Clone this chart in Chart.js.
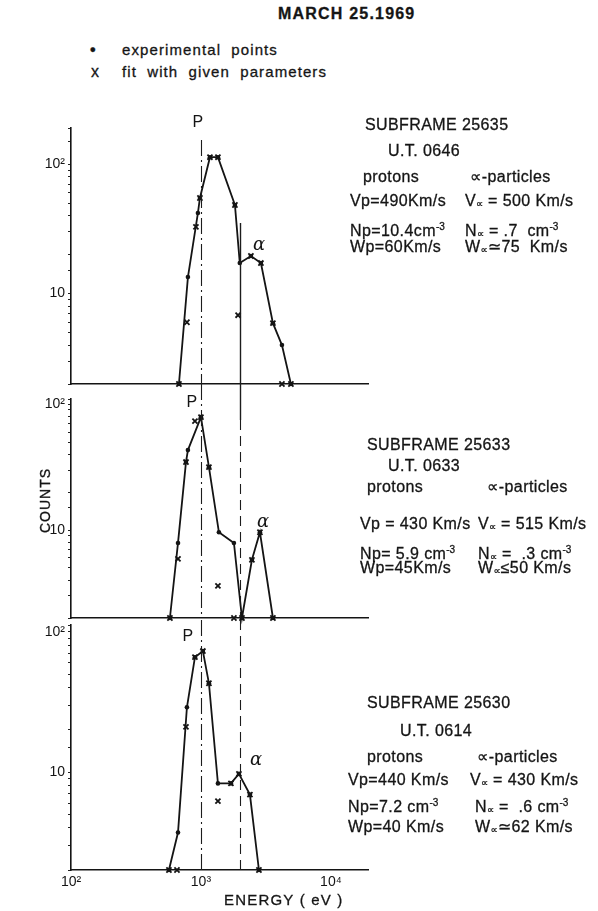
<!DOCTYPE html>
<html>
<head>
<meta charset="utf-8">
<script src="https://cdn.jsdelivr.net/npm/chart.js@4.4.1/dist/chart.umd.min.js"></script>
<style>
  html, body { margin: 0; padding: 0; background: #fff; }
  #page { position: relative; width: 598px; height: 911px; overflow: hidden; background: #fff;
          font-family: 'Liberation Sans', 'DejaVu Sans', sans-serif; color: #151515; }
  canvas { position: absolute; left: 0; }
  .t { position: absolute; white-space: pre; font-size: 16px; line-height: 18px; letter-spacing: 0.4px;
       -webkit-text-stroke: 0.3px #151515; }
  .t sub { font-size: 10px; vertical-align: -1px; letter-spacing: 0; }
  .t sup { font-size: 10px; vertical-align: 6px; letter-spacing: 0; }
  .lg { font-size: 15px; letter-spacing: 1.1px; word-spacing: 5px; }
</style>
</head>
<body>
<div id="page">
  <div class="t" style="left:278px;top:5px;font-weight:bold;font-size:16px;letter-spacing:1.2px">MARCH 25.1969</div>
  <div class="t" style="left:90px;top:41px;font-weight:bold">•</div>
  <div class="t lg" style="left:122px;top:41px">experimental points</div>
  <div class="t" style="left:91px;top:63px">x</div>
  <div class="t lg" style="left:122px;top:63px">fit with given parameters</div>

  <canvas id="c1" width="598" height="304" style="top:96px"></canvas>
  <canvas id="c2" width="598" height="250" style="top:380px"></canvas>
  <canvas id="c3" width="598" height="311" style="top:600px"></canvas>

  <!-- subframe 25635 -->
  <div class="t" style="left:365px;top:116px">SUBFRAME 25635</div>
  <div class="t" style="left:388px;top:142px">U.T. 0646</div>
  <div class="t" style="left:363px;top:168px">protons</div>
  <div class="t" style="left:470px;top:168px">∝-particles</div>
  <div class="t" style="left:350px;top:192px">Vp=490Km/s</div>
  <div class="t" style="left:465px;top:192px">V<sub>∝</sub> = 500 Km/s</div>
  <div class="t" style="left:350px;top:218px">Np=10.4cm<sup>-3</sup></div>
  <div class="t" style="left:465px;top:218px">N<sub>∝</sub> = .7  cm<sup>-3</sup></div>
  <div class="t" style="left:350px;top:238px">Wp=60Km/s</div>
  <div class="t" style="left:465px;top:238px">W<sub>∝</sub>≃75  Km/s</div>

  <!-- subframe 25633 -->
  <div class="t" style="left:367px;top:436px">SUBFRAME 25633</div>
  <div class="t" style="left:388px;top:457px">U.T. 0633</div>
  <div class="t" style="left:367px;top:478px">protons</div>
  <div class="t" style="left:487px;top:478px">∝-particles</div>
  <div class="t" style="left:360px;top:515px">Vp = 430 Km/s</div>
  <div class="t" style="left:478px;top:515px">V<sub>∝</sub> = 515 Km/s</div>
  <div class="t" style="left:360px;top:541px">Np= 5.9 cm<sup>-3</sup></div>
  <div class="t" style="left:478px;top:541px">N<sub>∝</sub> =  .3 cm<sup>-3</sup></div>
  <div class="t" style="left:360px;top:559px">Wp=45Km/s</div>
  <div class="t" style="left:478px;top:559px">W<sub>∝</sub>≤50 Km/s</div>

  <!-- subframe 25630 -->
  <div class="t" style="left:367px;top:694px">SUBFRAME 25630</div>
  <div class="t" style="left:400px;top:722px">U.T. 0614</div>
  <div class="t" style="left:367px;top:748px">protons</div>
  <div class="t" style="left:477px;top:748px">∝-particles</div>
  <div class="t" style="left:348px;top:771px">Vp=440 Km/s</div>
  <div class="t" style="left:470px;top:771px">V<sub>∝</sub> = 430 Km/s</div>
  <div class="t" style="left:348px;top:794px">Np=7.2 cm<sup>-3</sup></div>
  <div class="t" style="left:475px;top:794px">N<sub>∝</sub> =  .6 cm<sup>-3</sup></div>
  <div class="t" style="left:348px;top:818px">Wp=40 Km/s</div>
  <div class="t" style="left:475px;top:818px">W<sub>∝</sub>≃62 Km/s</div>

  <div class="t" style="left:17px;top:496px;width:56px;font-size:14px;letter-spacing:1px;transform:rotate(-90deg);transform-origin:28px 9px">COUNTS</div>
  <div class="t" style="left:224px;top:891px;font-size:15px;letter-spacing:1.2px">ENERGY ( eV )</div>
</div>

<script>
// Energy axis limits (eV)
const energyRange = [100, 19300];
// Count axis limits for each subframe
const countRange25635 = [2, 190];
const countRange25633 = [2, 110];
const countRange25630 = [2, 112];

// Reference energies of the proton and alpha lines
const lineEnergies = [1000, 2000];
const lineLabels = ['P', 'α'];

// Energy tick labels on the bottom axis
const energyTickValues = [100, 1000, 10000];
const energyTickLabels = ['10²', '10³', '10⁴'];
// Count tick labels
const countTickValues = [10, 100];
const countTickLabels = ['10', '10²'];

// SUBFRAME 25635, U.T. 0646
const s25635ExpEnergy = [677, 794, 948, 982, 1173, 1351, 1826, 1990, 2424, 2894, 3580, 4200, 4924];
const s25635ExpCounts = [2, 13.4, 41.9, 54.7, 113, 113, 48.3, 17.2, 19.5, 17.2, 5.9, 4.0, 2];
const s25635FitEnergy = [677, 780, 915, 982, 1173, 1351, 1826, 1930, 2424, 2894, 3580, 4200, 4924];
const s25635FitCounts = [2, 6.0, 32.7, 54.7, 113, 113, 48.3, 6.8, 19.5, 17.2, 5.9, 2, 2];

// SUBFRAME 25633, U.T. 0633
const s25633ExpEnergy = [577, 666, 767, 794, 1000, 1152, 1375, 1794, 2068, 2468, 2844, 3580];
const s25633ExpCounts = [2, 7.9, 34.7, 43.2, 78.9, 31.6, 9.6, 7.9, 2, 5.8, 9.6, 2];
const s25633FitEnergy = [577, 666, 767, 899, 1000, 1152, 1351, 1794, 2068, 2468, 2844, 3580];
const s25633FitCounts = [2, 5.9, 34.7, 73.3, 78.9, 31.6, 3.6, 2, 2, 5.8, 9.6, 2];

// SUBFRAME 25630, U.T. 0614
const s25630ExpEnergy = [567, 666, 780, 899, 1035, 1152, 1351, 1701, 1960, 2382, 2794];
const s25630ExpCounts = [2, 3.7, 29, 66, 73, 43, 8.3, 8.3, 9.7, 6.9, 2];
const s25630FitEnergy = [567, 654, 767, 899, 1035, 1152, 1351, 1701, 1960, 2382, 2794];
const s25630FitCounts = [2, 2, 21, 66, 73, 43, 6.2, 8.3, 9.7, 6.9, 2];

const INK = '#141414';
Chart.defaults.font.family = "'Liberation Sans', 'DejaVu Sans', sans-serif";
Chart.defaults.color = INK;

function pairs(xs, ys) { return xs.map((x, i) => ({ x, y: ys[i] })); }

function labelFor(values, labels) {
  return v => {
    const i = values.findIndex(t => Math.abs(Math.log10(v) - Math.log10(t)) < 1e-6);
    return i >= 0 ? labels[i] : '';
  };
}

// Vertical proton / alpha marker lines with their letters
const refLinePlugin = {
  id: 'refLines',
  afterDatasetsDraw(chart, args, opts) {
    const { ctx, chartArea: a, scales: { x } } = chart;
    ctx.save();
    ctx.strokeStyle = '#1c1c1c';
    (opts.segments || []).forEach(s => {
      const px = Math.round(x.getPixelForValue(lineEnergies[s.line])) + 0.5;
      ctx.lineWidth = s.width || 1.1;
      ctx.setLineDash(s.dash || []);
      ctx.beginPath();
      ctx.moveTo(px, a.top + s.from);
      ctx.lineTo(px, s.to == null ? a.bottom : a.top + s.to);
      ctx.stroke();
    });
    ctx.setLineDash([]);
    ctx.fillStyle = INK;
    ctx.textAlign = 'center';
    ctx.textBaseline = 'middle';
    (opts.tags || []).forEach(t => {
      const px = x.getPixelForValue(lineEnergies[t.line]);
      ctx.font = t.line === 1 ? 'italic 18px "DejaVu Serif", serif' : '16px "Liberation Sans", sans-serif';
      ctx.fillText(lineLabels[t.line], px + t.dx, a.top + t.dy);
    });
    ctx.restore();
  }
};

function makePanel(id, exp, fit, countRange, pad, axisHeight, showEnergyLabels, refs) {
  new Chart(document.getElementById(id), {
    type: 'line',
    data: {
      datasets: [
        {
          data: exp, showLine: true, borderColor: INK, borderWidth: 1.8, tension: 0,
          pointStyle: 'circle', pointRadius: 2.3, pointBackgroundColor: INK, pointBorderWidth: 0,
          clip: false
        },
        {
          data: fit, showLine: false, pointStyle: 'crossRot', pointRadius: 3.6,
          pointBorderColor: INK, pointBorderWidth: 1.8, clip: false
        }
      ]
    },
    options: {
      responsive: false, animation: false, devicePixelRatio: 1, events: [],
      layout: { padding: { top: pad[0], right: 230, bottom: pad[1], left: 0 } },
      plugins: { legend: { display: false }, tooltip: { enabled: false }, refLines: refs },
      scales: {
        x: {
          type: 'logarithmic', min: energyRange[0], max: energyRange[1],
          grid: { display: false, drawTicks: false },
          border: { display: true, color: INK, width: 1.6 },
          ticks: {
            display: showEnergyLabels, autoSkip: false, maxRotation: 0, padding: 4,
            font: { size: 14 }, callback: labelFor(energyTickValues, energyTickLabels)
          },
          afterFit: s => { s.height = axisHeight; }
        },
        y: {
          type: 'logarithmic', min: countRange[0], max: countRange[1],
          grid: { display: true, drawOnChartArea: false, drawTicks: true, tickLength: 3, color: '#222', lineWidth: 1 },
          border: { display: true, color: INK, width: 1.6 },
          ticks: {
            autoSkip: false, padding: 3, font: { size: 14 },
            callback: labelFor(countTickValues, countTickLabels)
          },
          afterFit: s => { s.width = 71; }
        }
      }
    },
    plugins: [refLinePlugin]
  });
}

const pDash = [16, 4, 2, 4];
const aDash = [10, 6];

makePanel('c1', pairs(s25635ExpEnergy, s25635ExpCounts), pairs(s25635FitEnergy, s25635FitCounts),
  countRange25635, [32, 12], 4, false, {
    segments: [
      { line: 0, from: 12, dash: pDash },
      { line: 1, from: 95, dash: [], width: 1.4 }
    ],
    tags: [ { line: 0, dx: -3, dy: -5 }, { line: 1, dx: 19, dy: 117 } ]
  });

makePanel('c2', pairs(s25633ExpEnergy, s25633ExpCounts), pairs(s25633FitEnergy, s25633FitCounts),
  countRange25633, [19, 8], 4, false, {
    segments: [
      { line: 0, from: -15, dash: pDash },
      { line: 1, from: -15, to: 21, dash: [], width: 1.4 },
      { line: 1, from: 21, dash: aDash }
    ],
    tags: [ { line: 0, dx: -9, dy: 4 }, { line: 1, dx: 23, dy: 123 } ]
  });

makePanel('c3', pairs(s25630ExpEnergy, s25630ExpCounts), pairs(s25630FitEnergy, s25630FitCounts),
  countRange25630, [25, 19], 22, true, {
    segments: [
      { line: 0, from: -5, dash: pDash },
      { line: 1, from: -5, dash: aDash }
    ],
    tags: [ { line: 0, dx: -13, dy: 12 }, { line: 1, dx: 16, dy: 135 } ]
  });
</script>
</body>
</html>
